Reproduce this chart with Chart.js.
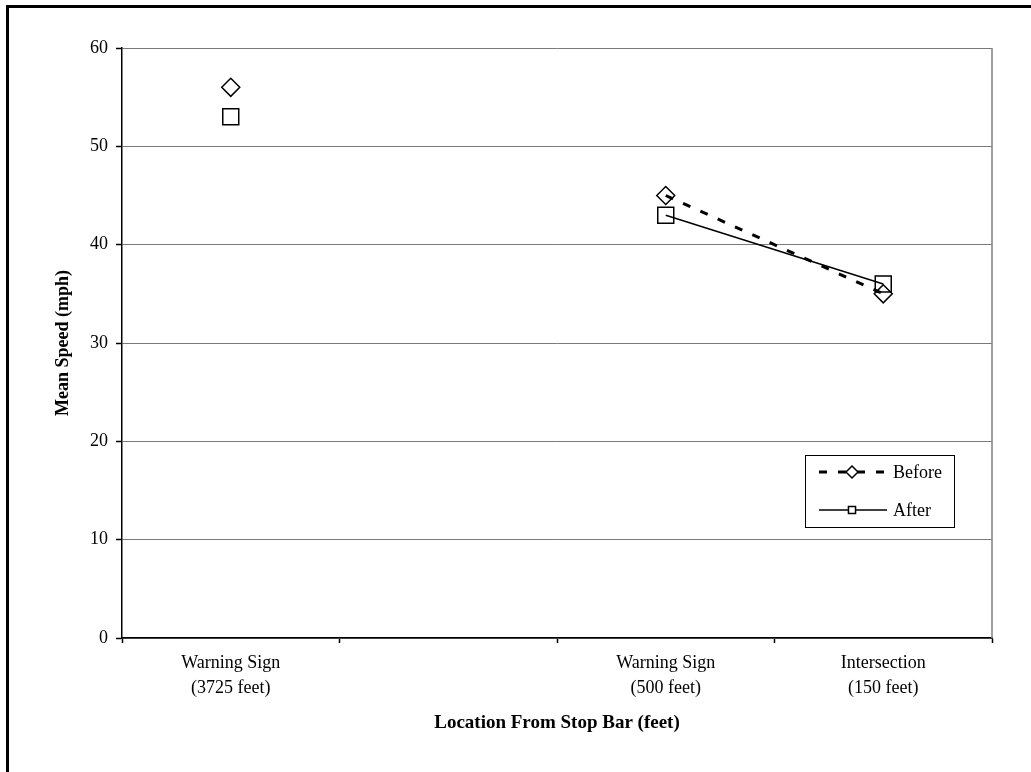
<!DOCTYPE html>
<html>
<head>
<meta charset="utf-8">
<script src="https://cdn.jsdelivr.net/npm/chart.js@4"></script>
<style>
  html, body { margin: 0; padding: 0; background: #fff; }
  #wrap { width: 1031px; height: 772px; }
</style>
</head>
<body>
<div id="wrap"><canvas id="speed-chart" width="1031" height="772"></canvas></div>
<script>
// Chart data.
const locations = [
  ['Warning Sign', '(3725 feet)'],
  '',
  ['Warning Sign', '(500 feet)'],
  ['Intersection', '(150 feet)']
];
const beforeSpeeds = [56, null, 45, 35];
const afterSpeeds = [53, null, 43, 36];
const speedTicks = [0, 10, 20, 30, 40, 50, 60];

const SERIF = '"Liberation Serif", "Times New Roman", serif';

// Draws the outer frame, the grey plot border and the boxed legend.
const decorPlugin = {
  id: 'decor',
  beforeDraw(chart) {
    const ctx = chart.ctx;
    ctx.save();
    ctx.fillStyle = '#000';
    ctx.fillRect(6, 5, chart.width, 3);
    ctx.fillRect(6, 5, 3, chart.height);
    ctx.restore();
  },
  afterDraw(chart) {
    const ctx = chart.ctx;
    const { top, bottom, right } = chart.chartArea;
    ctx.save();
    // right edge of the plot area
    ctx.strokeStyle = '#808080';
    ctx.lineWidth = 1.5;
    ctx.beginPath();
    ctx.moveTo(right, top);
    ctx.lineTo(right, bottom);
    ctx.stroke();

    // legend box
    const box = { x: 805.5, y: 455.5, w: 149, h: 72 };
    ctx.fillStyle = '#fff';
    ctx.fillRect(box.x, box.y, box.w, box.h);
    ctx.strokeStyle = '#000';
    ctx.lineWidth = 1;
    ctx.strokeRect(box.x, box.y, box.w, box.h);

    const rows = [
      { ds: chart.data.datasets[0], y: 472, radius: 6 },
      { ds: chart.data.datasets[1], y: 510, radius: 5 }
    ];
    rows.forEach(r => {
      ctx.save();
      ctx.strokeStyle = r.ds.borderColor;
      ctx.lineWidth = r.ds.borderWidth;
      ctx.setLineDash(r.ds.borderDash || []);
      ctx.beginPath();
      ctx.moveTo(819, r.y);
      ctx.lineTo(887, r.y);
      ctx.stroke();
      ctx.restore();

      // hollow marker over the line sample
      ctx.save();
      ctx.fillStyle = '#fff';
      ctx.strokeStyle = '#000';
      ctx.lineWidth = 1.5;
      Chart.helpers.drawPoint(ctx, {
        pointStyle: r.ds.pointStyle,
        radius: r.radius,
        borderWidth: 1.5,
        rotation: 0
      }, 852, r.y);
      ctx.restore();

      ctx.fillStyle = '#000';
      ctx.font = '18px ' + SERIF;
      ctx.textBaseline = 'middle';
      ctx.textAlign = 'left';
      ctx.fillText(r.ds.label, 893, r.y + 1);
    });
    ctx.restore();
  }
};

new Chart(document.getElementById('speed-chart'), {
  type: 'line',
  data: {
    labels: locations,
    datasets: [
      {
        label: 'Before',
        data: beforeSpeeds,
        borderColor: '#000',
        borderWidth: 3,
        borderDash: [8, 11],
        pointStyle: 'rectRot',
        pointRadius: 9,
        pointBorderWidth: 1.5,
        pointBorderColor: '#000',
        pointBackgroundColor: 'transparent',
        spanGaps: false,
        tension: 0
      },
      {
        label: 'After',
        data: afterSpeeds,
        borderColor: '#000',
        borderWidth: 1.5,
        pointStyle: 'rect',
        pointRadius: 11.3,
        pointBorderWidth: 1.5,
        pointBorderColor: '#000',
        pointBackgroundColor: 'transparent',
        spanGaps: false,
        tension: 0
      }
    ]
  },
  options: {
    responsive: false,
    animation: false,
    layout: { padding: { left: 0, top: 48, right: 39, bottom: 0 } },
    plugins: {
      legend: { display: false },
      tooltip: { enabled: false }
    },
    scales: {
      x: {
        offset: true,
        grid: {
          offset: true,
          drawOnChartArea: false,
          drawTicks: true,
          tickLength: 5,
          tickColor: '#000',
          tickWidth: 1.5
        },
        border: { color: '#000', width: 1.5 },
        ticks: {
          color: '#000',
          padding: 8,
          maxRotation: 0,
          autoSkip: false,
          font: { family: SERIF, size: 18, lineHeight: 1.39 }
        },
        title: {
          display: true,
          text: 'Location From Stop Bar (feet)',
          color: '#000',
          font: { family: SERIF, size: 19, weight: 'bold', lineHeight: 1.2 },
          padding: { top: 0, bottom: 38 }
        },
        afterFit: scale => { scale.height = 134; }
      },
      y: {
        min: speedTicks[0],
        max: speedTicks[speedTicks.length - 1],
        afterBuildTicks: scale => { scale.ticks = speedTicks.map(v => ({ value: v })); },
        grid: {
          color: '#7a7a7a',
          lineWidth: 1,
          drawTicks: true,
          tickLength: 6,
          tickColor: '#000',
          tickWidth: 1.5
        },
        border: { color: '#000', width: 1.5 },
        ticks: {
          color: '#000',
          padding: 8,
          font: { family: SERIF, size: 18 }
        },
        title: {
          display: true,
          text: 'Mean Speed (mph)',
          color: '#000',
          font: { family: SERIF, size: 18, weight: 'bold', lineHeight: 1.2 },
          padding: { top: 53, bottom: 0 }
        },
        afterFit: scale => { scale.width = 122; }
      }
    }
  },
  plugins: [decorPlugin]
});
</script>
</body>
</html>
